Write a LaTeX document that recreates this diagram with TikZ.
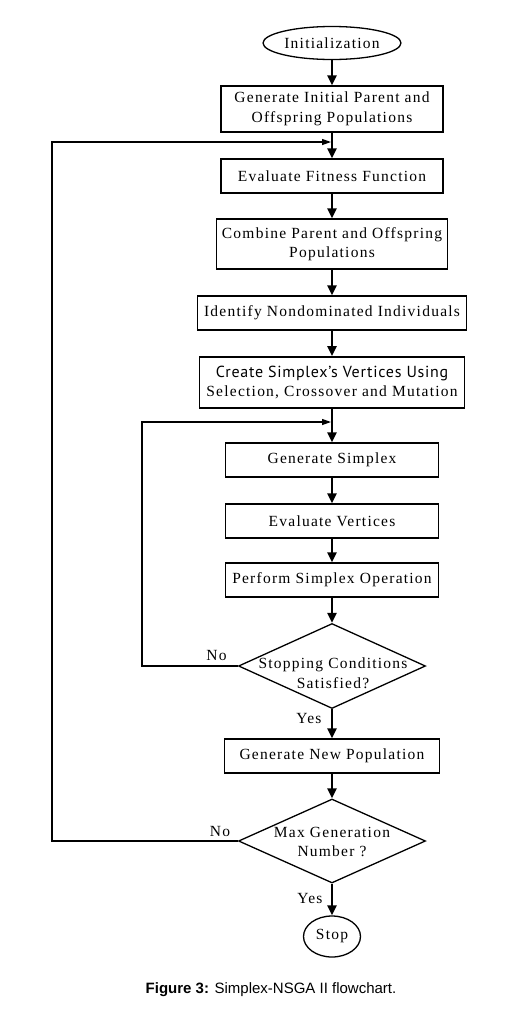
\documentclass[tikz,border=0pt]{standalone}
\usepackage{fontspec}
\setmainfont{Liberation Serif}
\newfontfamily\boxfont[LetterSpace=8]{Liberation Serif}
\newfontfamily\capfont{Liberation Sans}
\newfontfamily\myriadfont[LetterSpace=4.5]{PT Sans}
\usetikzlibrary{shapes.geometric,arrows.meta}
\begin{document}
\begin{tikzpicture}[x=1pt,y=-1pt,
  every node/.style={font=\boxfont\fontsize{15.5}{19.5}\selectfont, text=black},
  box/.style={draw, rectangle, line width=1.3pt, inner sep=0pt, align=center, minimum height=34pt},
  term/.style={draw, ellipse, line width=1.3pt, inner sep=0pt},
  dia/.style={draw, diamond, line width=1.3pt, inner sep=0pt, minimum width=187pt, minimum height=85pt},
  flow/.style={line width=2.6pt, -{Triangle[length=10pt,width=9pt]}},
  back/.style={line width=1.2pt, -{Triangle[length=9pt,width=6pt]}, shorten >=1pt},
  lbl/.style={inner sep=0pt}
]
\useasboundingbox (0,0) rectangle (532,1010);

\node[term, minimum width=138pt, minimum height=33pt] (init) at (332,43) {Initialization};
\node[box, minimum width=222pt, minimum height=46pt] (b1) at (332,109) {Generate Initial Parent and\\Offspring Populations};
\node[box, minimum width=222pt] (b2) at (332,176) {Evaluate Fitness Function};
\node[box, minimum width=231pt, minimum height=50pt] (b3) at (332,244) {Combine Parent and Offspring\\Populations};
\node[box, minimum width=269pt] (b4) at (332,313) {Identify Nondominated Individuals};
\node[box, line width=1.8pt, minimum width=265pt, minimum height=51pt] (b5) at (332,382.5) {{\myriadfont\fontsize{16}{19.5}\selectfont Create Simplex’s Vertices Using}\\Selection, Crossover and Mutation};
\node[box, minimum width=213pt] (b6) at (332,460) {Generate Simplex};
\node[box, minimum width=213pt] (b7) at (332,521) {Evaluate Vertices};
\node[box, minimum width=213pt] (b8) at (332,580) {Perform Simplex Operation};
\node[dia] (d1) at (332,666) {};
\node[lbl, align=center] (d1t) at (333,673) {Stopping Conditions\\Satisfied?};
\node[box, minimum width=215pt] (b9) at (332,756) {Generate New Population};
\node[dia, minimum height=84pt] (d2) at (332,841) {};
\node[lbl, align=center] (d2t) at (332,842) {Max Generation\\Number ?};
\node[term, minimum width=57pt, minimum height=41pt] (stop) at (332,936.5) {Stop};

\node[lbl] (no1) at (216.5,655.5) {No};
\node[lbl] (yes1) at (309,718) {Yes};
\node[lbl] (no2) at (220,831.5) {No};
\node[lbl] (yes2) at (310,898) {Yes};

\node[anchor=base, inner sep=0pt, font=\capfont\fontsize{15}{18}\selectfont] (cap) at (271,993) {\textbf{Figure 3:} Simplex-NSGA II flowchart.};

\draw[flow] (init) -- (b1);
\draw[flow] (b1) -- (b2);
\draw[flow] (b2) -- (b3);
\draw[flow] (b3) -- (b4);
\draw[flow] (b4) -- (b5);
\draw[flow] (b5) -- (b6);
\draw[flow] (b6) -- (b7);
\draw[flow] (b7) -- (b8);
\draw[flow] (b8) -- (d1);
\draw[flow] (d1) -- (b9);
\draw[flow] (b9) -- (d2);
\draw[flow] (d2) -- (stop);

\coordinate (j1) at (332,142);
\coordinate (c1) at (52,142);
\coordinate (j2) at (332,422);
\coordinate (c2) at (142,422);
\draw[back] (d2.west) -| (c1) -- (j1);
\draw[back] (d1.west) -| (c2) -- (j2);
\end{tikzpicture}
\end{document}
